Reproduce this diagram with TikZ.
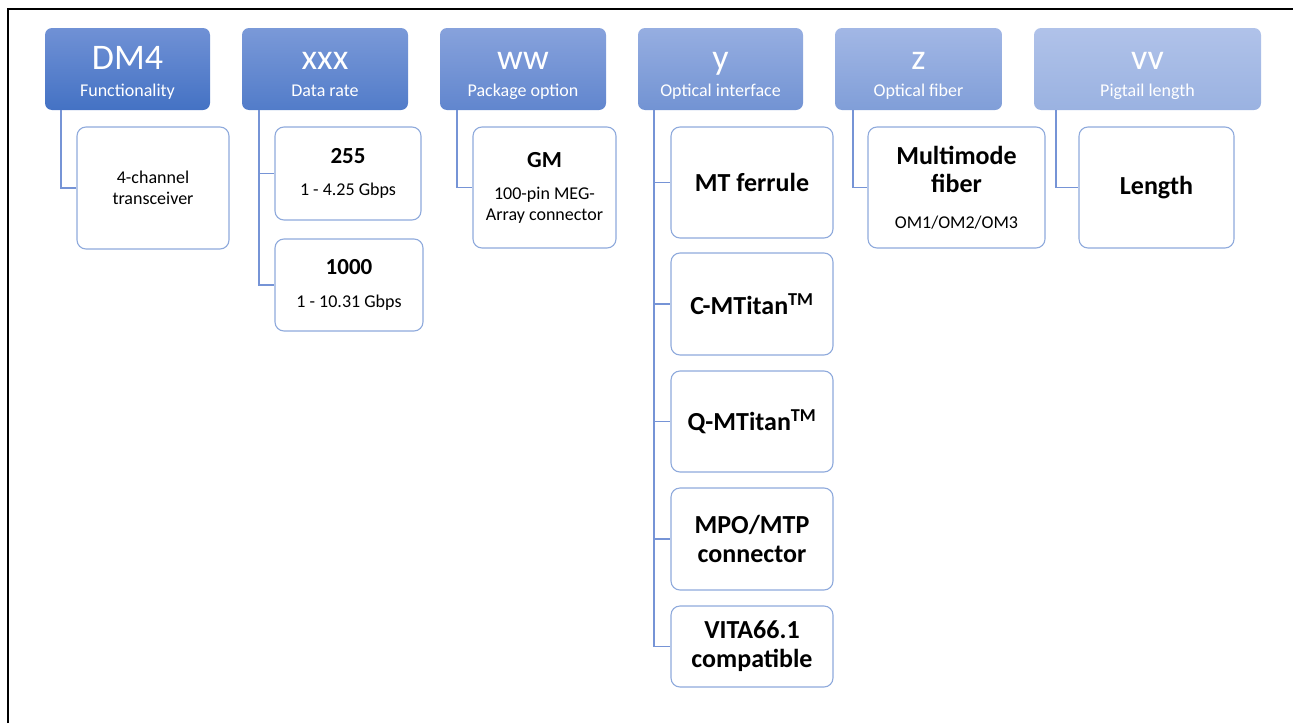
\documentclass[tikz,border=0pt]{standalone}
\usepackage{fontspec}
\setmainfont{Carlito}
\usepackage{tikz}
\usetikzlibrary{positioning}
\definecolor{hdrDMt}{RGB}{112,145,213}
\definecolor{hdrDMb}{RGB}{68,114,196}
\definecolor{hdrXXt}{RGB}{122,153,216}
\definecolor{hdrXXb}{RGB}{82,124,201}
\definecolor{hdrWWt}{RGB}{135,162,220}
\definecolor{hdrWWb}{RGB}{97,134,206}
\definecolor{hdrYt}{RGB}{150,174,225}
\definecolor{hdrYb}{RGB}{114,147,211}
\definecolor{hdrZt}{RGB}{162,183,229}
\definecolor{hdrZb}{RGB}{128,158,216}
\definecolor{hdrVVt}{RGB}{176,194,233}
\definecolor{hdrVVb}{RGB}{154,178,225}
\definecolor{linkblue}{RGB}{118,148,214}
\definecolor{boxline}{RGB}{143,170,220}

\begin{document}
\begin{tikzpicture}[x=1pt, y=-1pt,
  hdr/.style={rectangle, rounded corners=7pt, inner sep=0pt, minimum height=82pt},
  htitle/.style={anchor=base, text=white, inner sep=0pt, font=\fontsize{36}{36}\selectfont},
  hsub/.style={anchor=base, text=white, inner sep=0pt, font=\fontsize{18}{20}\selectfont},
  opt/.style={rectangle, rounded corners=9pt, draw=boxline, line width=1.1pt, fill=white,
    align=center, inner sep=0pt, font=\fontsize{18}{21}\selectfont},
  optbig/.style={opt, font=\fontsize{26}{29}\selectfont\bfseries},
  conn/.style={draw=linkblue, line width=1.4pt}]
\useasboundingbox (0,0) rectangle (1293,723);
% Rahmen
\draw[line width=2.4pt] (8,723) -- (8,9) -- (1293,9);

% Kopfzeile
\node[hdr, top color=hdrDMt, bottom color=hdrDMb, minimum width=165pt] (hDM) at (127.5,69) {};
\node[htitle] (tDM) at ([yshift=-42pt]hDM.north) {DM4};
\node[hsub] (sDM) at ([yshift=14pt]hDM.south) {Functionality};

\node[hdr, top color=hdrXXt, bottom color=hdrXXb, minimum width=166pt] (hXX) at (325,69) {};
\node[htitle] (tXX) at ([yshift=-42pt]hXX.north) {xxx};
\node[hsub] (sXX) at ([yshift=14pt]hXX.south) {Data rate};

\node[hdr, top color=hdrWWt, bottom color=hdrWWb, minimum width=166pt] (hWW) at (523,69) {};
\node[htitle] (tWW) at ([yshift=-42pt]hWW.north) {ww};
\node[hsub] (sWW) at ([yshift=14pt]hWW.south) {Package option};

\node[hdr, top color=hdrYt, bottom color=hdrYb, minimum width=165pt] (hY) at (720.5,69) {};
\node[htitle] (tY) at ([yshift=-42pt]hY.north) {y};
\node[hsub] (sY) at ([yshift=14pt]hY.south) {Optical interface};

\node[hdr, top color=hdrZt, bottom color=hdrZb, minimum width=167pt] (hZ) at (918.5,69) {};
\node[htitle] (tZ) at ([yshift=-42pt]hZ.north) {z};
\node[hsub] (sZ) at ([yshift=14pt]hZ.south) {Optical fiber};

\node[hdr, top color=hdrVVt, bottom color=hdrVVb, minimum width=227pt] (hVV) at (1147.5,69) {};
\node[htitle] (tVV) at ([yshift=-42pt]hVV.north) {vv};
\node[hsub] (sVV) at ([yshift=14pt]hVV.south) {Pigtail length};

% Optionen
\node[opt, minimum width=152pt, minimum height=122pt] (cDM) at (153,188) {4-channel\\transceiver};
\node[opt, minimum width=146pt, minimum height=93pt] (c255) at (348,173.5)
  {{\fontsize{23}{27}\selectfont\bfseries 255}\\[11pt]1 - 4.25 Gbps};
\node[opt, minimum width=148pt, minimum height=92pt] (c1000) at (349,285)
  {{\fontsize{23}{27}\selectfont\bfseries 1000}\\[12pt]1 - 10.31 Gbps};
\node[opt, minimum width=143pt, minimum height=121pt] (cGM) at (544.5,187.5)
  {{\fontsize{23}{27}\selectfont\bfseries GM}\\[11pt]100-pin MEG-\\Array connector};
\node[optbig, minimum width=162pt, minimum height=111pt] (cMT) at (752,182.5) {MT ferrule};
\node[optbig, minimum width=162pt, minimum height=102pt] (cCM) at (752,304) {C-MTitan\textsuperscript{TM}};
\node[optbig, minimum width=162pt, minimum height=101pt] (cQM) at (752,421.5) {Q-MTitan\textsuperscript{TM}};
\node[optbig, minimum width=162pt, minimum height=102pt] (cMPO) at (752,539) {MPO/MTP\\connector};
\node[optbig, minimum width=162pt, minimum height=81pt] (cVITA) at (752,646.5) {VITA66.1\\compatible};
\node[opt, minimum width=177pt, minimum height=121pt] (cZ) at (956.5,187.5)
  {{\fontsize{26}{28}\selectfont\bfseries Multimode}\\[7pt]{\fontsize{26}{28}\selectfont\bfseries fiber}\\[15pt]OM1/OM2/OM3};
\node[optbig, minimum width=155pt, minimum height=121pt] (cVV) at (1156.5,187.5) {Length};

% Verbindungen
\draw[conn] ([xshift=16pt]hDM.south west) |- (cDM.west);
\draw[conn] ([xshift=17pt]hXX.south west) |- (c255.west);
\draw[conn] ([xshift=17pt]hXX.south west) |- (c1000.west);
\draw[conn] ([xshift=17pt]hWW.south west) |- (cGM.west);
\draw[conn] ([xshift=16pt]hY.south west) |- (cMT.west);
\draw[conn] ([xshift=16pt]hY.south west) |- (cCM.west);
\draw[conn] ([xshift=16pt]hY.south west) |- (cQM.west);
\draw[conn] ([xshift=16pt]hY.south west) |- (cMPO.west);
\draw[conn] ([xshift=16pt]hY.south west) |- (cVITA.west);
\draw[conn] ([xshift=18pt]hZ.south west) |- (cZ.west);
\draw[conn] ([xshift=22pt]hVV.south west) |- (cVV.west);
\end{tikzpicture}
\end{document}
